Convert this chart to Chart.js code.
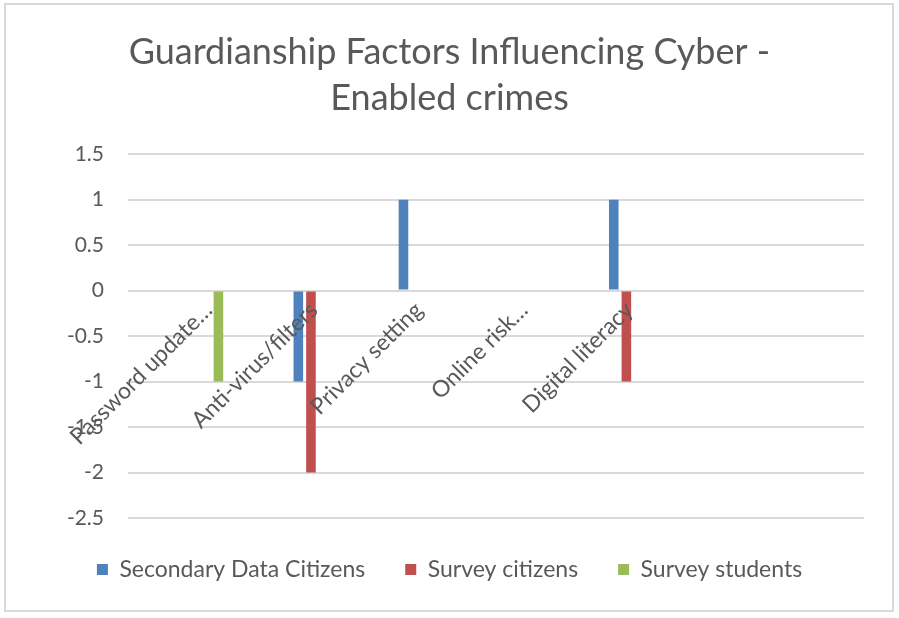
<!DOCTYPE html>
<html>
<head>
<meta charset="utf-8">
<script src="https://cdn.jsdelivr.net/npm/chart.js@4.4.0/dist/chart.umd.min.js"></script>
<style>
  html, body { margin: 0; padding: 0; background: #ffffff; }
  #wrap { position: relative; width: 899px; height: 618px; }
</style>
</head>
<body>
<div id="wrap"><canvas id="c" width="899" height="618"></canvas></div>
<script>
// ---- data ----
const categories = ['Password update…', 'Anti-virus/filters', 'Privacy setting', 'Online risk…', 'Digital literacy', '', ''];
const secondaryDataCitizens = [null, -1, 1, null, 1, null, null];
const surveyCitizens        = [null, -2, null, null, -1, null, null];
const surveyStudents        = [-1, null, null, null, null, null, null];
const emptySeries           = [null, null, null, null, null, null, null];
const yTicks = { min: -2.5, max: 1.5, step: 0.5 };
const titleLines = ['Guardianship Factors Influencing Cyber -', 'Enabled crimes'];

const TEXT = '#595959';
const GRID = '#D9D9D9';
const FONT = 'Lato, "Open Sans", sans-serif';

// Excel-style cluster: three visible series sit to the right of the category centre
// (four blank slots precede them in the original workbook's cluster).
const blankSlots = [0, 1, 2, 3].map(i => ({
  label: '__blank' + i, data: emptySeries, backgroundColor: 'rgba(0,0,0,0)'
}));

const borderPlugin = {
  id: 'outerBorder',
  beforeDraw(chart) {
    const ctx = chart.ctx;
    ctx.save();
    ctx.fillStyle = '#ffffff';
    ctx.fillRect(0, 0, chart.width, chart.height);
    ctx.strokeStyle = GRID;
    ctx.lineWidth = 2;
    ctx.strokeRect(5, 4, 888, 607);
    ctx.restore();
  }
};

new Chart(document.getElementById('c'), {
  type: 'bar',
  data: {
    labels: categories,
    datasets: [
      ...blankSlots,
      { label: 'Secondary Data Citizens', data: secondaryDataCitizens, backgroundColor: '#4F81BD' },
      { label: 'Survey citizens', data: surveyCitizens, backgroundColor: '#C0504D' },
      { label: 'Survey students', data: surveyStudents, backgroundColor: '#9BBB59' }
    ]
  },
  options: {
    responsive: false,
    animation: false,
    datasets: { bar: { categoryPercentage: 0.84, barPercentage: 0.76 } },
    layout: { padding: { left: 35, right: 35, top: 0, bottom: 27 } },
    plugins: {
      title: {
        display: true,
        text: titleLines,
        color: TEXT,
        font: { family: FONT, size: 36, weight: 'normal', lineHeight: 1.28 },
        padding: { top: 29, bottom: 33 }
      },
      legend: {
        position: 'bottom',
        labels: {
          color: TEXT,
          font: { family: FONT, size: 23 },
          boxWidth: 11, boxHeight: 11,
          padding: 40,
          filter: item => !item.text.startsWith('__blank')
        }
      },
      tooltip: { enabled: false }
    },
    scales: {
      x: {
        position: { y: 0 },
        grid: { display: false, drawTicks: false },
        border: { display: false },
        ticks: {
          z: 1,
          color: TEXT,
          font: { family: FONT, size: 23 },
          autoSkip: false,
          minRotation: 45, maxRotation: 45,
          labelOffset: 28,
          padding: 6
        },
        afterFit(scale) { scale.paddingLeft = 0; scale.paddingRight = 0; }
      },
      y: {
        min: yTicks.min, max: yTicks.max,
        grid: { color: GRID, lineWidth: 2, drawTicks: false },
        border: { display: false },
        ticks: {
          stepSize: yTicks.step,
          color: TEXT,
          font: { family: FONT, size: 21 },
          padding: 24,
          callback: v => String(Number(v.toFixed(2)))
        },
        afterFit(scale) { scale.width = 93; }
      }
    }
  },
  plugins: [borderPlugin]
});
</script>
</body>
</html>
